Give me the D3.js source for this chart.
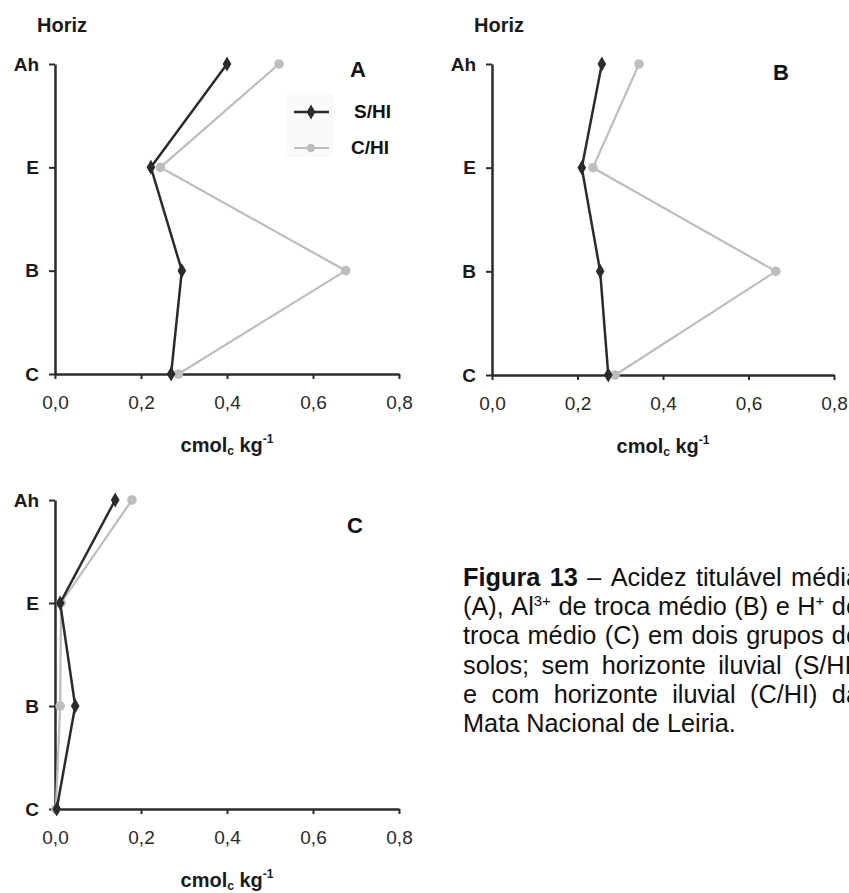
<!DOCTYPE html>
<html><head><meta charset="utf-8">
<script src="https://cdn.jsdelivr.net/npm/d3@7"></script>
<style>
html,body{margin:0;padding:0;background:#fff;}
svg{display:block;font-family:"Liberation Sans",Arial,sans-serif;}
</style></head>
<body>
<svg id="chart" width="849" height="893"></svg>
<script>
// ---- data ----
const horizons = ["Ah", "E", "B", "C"];
const xTicks = [0, 0.2, 0.4, 0.6, 0.8];
const xTickLabels = ["0,0", "0,2", "0,4", "0,6", "0,8"];
const seriesNames = ["S/HI", "C/HI"];
const panelLabels = ["A", "B", "C"];
// Panel A: acidez titulável média
const A_SHI = [0.400, 0.223, 0.295, 0.270];
const A_CHI = [0.521, 0.245, 0.676, 0.287];
// Panel B: Al3+ de troca médio
const B_SHI = [0.257, 0.210, 0.253, 0.272];
const B_CHI = [0.344, 0.236, 0.664, 0.288];
// Panel C: H+ de troca médio
const C_SHI = [0.140, 0.012, 0.047, 0.004];
const C_CHI = [0.179, 0.014, 0.012, 0.002];

const svg = d3.select("#chart");
const DARK = "#2b2b2b", LIGHT = "#bdbdbd";

const panels = [
  {label: panelLabels[0], s: A_SHI, c: A_CHI, x0: 55, x1: 399, y0: 64, y1: 374, horiz: true, legend: true, lx: 350, ly: 77},
  {label: panelLabels[1], s: B_SHI, c: B_CHI, x0: 492, x1: 834, y0: 64, y1: 375, horiz: true, legend: false, lx: 773, ly: 80},
  {label: panelLabels[2], s: C_SHI, c: C_CHI, x0: 55, x1: 399, y0: 500, y1: 809, horiz: false, legend: false, lx: 347, ly: 533}
];

function drawPanel(p) {
  const g = svg.append("g");
  const x = d3.scaleLinear().domain([0, 0.8]).range([p.x0, p.x1]);
  const y = d3.scalePoint().domain(horizons).range([p.y0, p.y1]);

  // y axis
  const ya = g.append("g").attr("transform", `translate(${p.x0},0)`)
    .call(d3.axisLeft(y).tickSize(6).tickSizeOuter(0).tickPadding(10));
  ya.select(".domain").attr("stroke", DARK).attr("stroke-width", 2.5);
  ya.selectAll(".tick line").attr("stroke", DARK).attr("stroke-width", 2);
  ya.selectAll(".tick text").attr("fill", "#1a1a1a").attr("font-size", 19)
    .attr("font-weight", "bold").attr("font-family", "'Liberation Sans',Arial,sans-serif");

  // x axis
  const xa = g.append("g").attr("transform", `translate(0,${p.y1})`)
    .call(d3.axisBottom(x).tickValues(xTicks).tickFormat((d, i) => xTickLabels[i])
      .tickSize(5).tickSizeOuter(0).tickPadding(17));
  xa.select(".domain").attr("stroke", DARK).attr("stroke-width", 2.5);
  xa.selectAll(".tick line").attr("stroke", DARK).attr("stroke-width", 2);
  xa.selectAll(".tick text").attr("fill", "#2a2a2a").attr("font-size", 19)
    .attr("font-family", "'Liberation Sans',Arial,sans-serif");

  // axis title
  const t = g.append("text").attr("x", x(0.4)).attr("y", p.y1 + 78)
    .attr("text-anchor", "middle").attr("font-weight", "bold").attr("font-size", 20).attr("fill", "#1a1a1a");
  t.append("tspan").text("cmol");
  t.append("tspan").text("c").attr("font-size", 12).attr("dy", 3);
  t.append("tspan").text(" kg").attr("dy", -3);
  t.append("tspan").text("-1").attr("font-size", 12).attr("dy", -9);

  if (p.horiz) {
    g.append("text").attr("x", p.x0 - 18).attr("y", 32).text("Horiz")
      .attr("font-weight", "bold").attr("font-size", 20).attr("fill", "#1a1a1a");
  }
  g.append("text").attr("x", p.lx).attr("y", p.ly).text(p.label)
    .attr("font-weight", "bold").attr("font-size", 22).attr("fill", "#111");

  const line = d3.line().x(d => x(d.v)).y(d => y(d.h));
  const dS = horizons.map((h, i) => ({h, v: p.s[i]}));
  const dC = horizons.map((h, i) => ({h, v: p.c[i]}));

  // C/HI (light) drawn first, S/HI on top
  g.append("path").datum(dC).attr("d", line).attr("fill", "none")
    .attr("stroke", LIGHT).attr("stroke-width", 2.2);
  g.selectAll(".mc").data(dC).enter().append("circle")
    .attr("cx", d => x(d.v)).attr("cy", d => y(d.h)).attr("r", 4.8).attr("fill", LIGHT);

  g.append("path").datum(dS).attr("d", line).attr("fill", "none")
    .attr("stroke", DARK).attr("stroke-width", 2.5);
  g.selectAll(".ms").data(dS).enter().append("path")
    .attr("d", d3.symbol(d3.symbolDiamond, 65))
    .attr("transform", d => `translate(${x(d.v)},${y(d.h)})`).attr("fill", DARK);

  if (p.legend) {
    g.append("rect").attr("x", 285).attr("y", 93).attr("width", 48).attr("height", 65).attr("fill", "#fafafa");
    const items = [{n: seriesNames[0], col: DARK, ly: 112, tx: 354, ty: 118, w: 2.5},
                   {n: seriesNames[1], col: LIGHT, ly: 148, tx: 351, ty: 154, w: 2.2}];
    items.forEach((it, i) => {
      g.append("line").attr("x1", 294).attr("x2", 329).attr("y1", it.ly).attr("y2", it.ly)
        .attr("stroke", it.col).attr("stroke-width", it.w);
      if (i === 0) {
        g.append("path").attr("d", d3.symbol(d3.symbolDiamond, 65))
          .attr("transform", `translate(311,${it.ly})`).attr("fill", it.col);
      } else {
        g.append("circle").attr("cx", 311).attr("cy", it.ly).attr("r", 4.3).attr("fill", it.col);
      }
      g.append("text").attr("x", it.tx).attr("y", it.ty).text(it.n)
        .attr("font-weight", "bold").attr("font-size", 19).attr("fill", "#111");
    });
  }
}
panels.forEach(drawPanel);

// ---- caption ----
const captionLines = [
  [[{t: "Figura", b: 1}], [{t: "13", b: 1}], [{t: "–"}], [{t: "Acidez"}], [{t: "titulável"}], [{t: "média"}]],
  [[{t: "(A),"}], [{t: "Al"}, {t: "3+", sup: 1}], [{t: "de"}], [{t: "troca"}], [{t: "médio"}], [{t: "(B)"}], [{t: "e"}], [{t: "H"}, {t: "+", sup: 1}], [{t: "de"}]],
  [[{t: "troca"}], [{t: "médio"}], [{t: "(C)"}], [{t: "em"}], [{t: "dois"}], [{t: "grupos"}], [{t: "de"}]],
  [[{t: "solos;"}], [{t: "sem"}], [{t: "horizonte"}], [{t: "iluvial"}], [{t: "(S/HI)"}]],
  [[{t: "e"}], [{t: "com"}], [{t: "horizonte"}], [{t: "iluvial"}], [{t: "(C/HI)"}], [{t: "da"}]],
  [[{t: "Mata"}], [{t: "Nacional"}], [{t: "de"}], [{t: "Leiria."}]]
];
const capX = 463, capR = 860, capY0 = 586, capLH = 29.2, capFS = 25.3;
const cap = svg.append("g").attr("font-size", capFS).attr("fill", "#111");
captionLines.forEach((words, li) => {
  const yy = capY0 + li * capLH;
  const nodes = words.map(w => {
    const tx = cap.append("text").attr("y", yy);
    w.forEach(seg => {
      const ts = tx.append("tspan").text(seg.t);
      if (seg.b) ts.attr("font-weight", "bold");
      if (seg.sup) ts.attr("font-size", 15).attr("baseline-shift", "9");
    });
    return tx;
  });
  const widths = nodes.map(n => n.node().getComputedTextLength());
  const total = d3.sum(widths);
  const justify = li < captionLines.length - 1;
  const spaceW = justify ? (capR - capX - total) / (words.length - 1) : capFS * 0.278;
  let cx = capX;
  nodes.forEach((n, i) => { n.attr("x", cx); cx += widths[i] + spaceW; });
});
</script>
</body></html>
